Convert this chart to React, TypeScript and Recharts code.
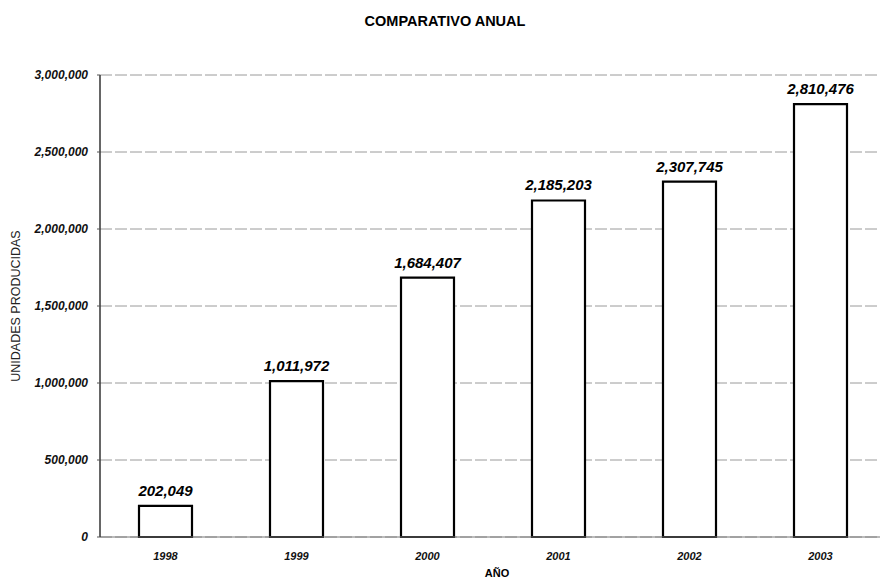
import React from 'react';
import { BarChart, Bar, XAxis, YAxis, CartesianGrid, LabelList } from 'recharts';

const years = ['1998', '1999', '2000', '2001', '2002', '2003'];
const units = [202049, 1011972, 1684407, 2185203, 2307745, 2810476];
const yTicks = [0, 500000, 1000000, 1500000, 2000000, 2500000, 3000000];

const title = 'COMPARATIVO ANUAL';
const yLabel = 'UNIDADES PRODUCIDAS';
const xLabel = 'AÑO';

const data = years.map((y, i) => ({ year: y, value: units[i] }));

const FONT = '"Liberation Sans", Arial, sans-serif';
const fmt = (v: number) => Number(v).toLocaleString('en-US');

const Overlay = () => (
  <g>
    <text x={445} y={26} textAnchor="middle" fontFamily={FONT} fontWeight="bold" fontSize={14.5} fill="#000">
      {title}
    </text>
    <text
      x={17}
      y={306}
      transform="rotate(-90 17 306)"
      textAnchor="middle"
      dominantBaseline="middle"
      fontFamily={FONT}
      fontSize={12.5}
      fill="#222"
    >
      {yLabel}
    </text>
    <text x={497} y={577} textAnchor="middle" fontFamily={FONT} fontWeight="bold" fontSize={11} fill="#000">
      {xLabel}
    </text>
  </g>
);

export default function App() {
  return (
    <div style={{ position: 'absolute', left: 0, top: 0, width: 880, height: 584, overflow: 'hidden', background: '#fff' }}>
      <BarChart
        width={886}
        height={584}
        data={data}
        margin={{ top: 75, right: 0, bottom: 0, left: 0 }}
        barCategoryGap={0}
      >
        <CartesianGrid vertical={false} stroke="#9a9a9a" strokeDasharray="12 3" />
        <XAxis
          dataKey="year"
          height={47}
          tickLine={false}
          axisLine={{ stroke: '#777', strokeWidth: 1 }}
          tickMargin={9}
          tick={{ fontFamily: FONT, fontStyle: 'italic', fontWeight: 'bold', fontSize: 11, fill: '#111' }}
          label={{ content: () => <Overlay /> }}
        />
        <YAxis
          width={100}
          domain={[0, 3000000]}
          ticks={yTicks}
          tickFormatter={fmt}
          tickSize={3}
          tickMargin={9}
          axisLine={{ stroke: '#333', strokeWidth: 1.5 }}
          tickLine={{ stroke: '#555' }}
          tick={{ fontFamily: FONT, fontStyle: 'italic', fontWeight: 'bold', fontSize: 12, fill: '#111' }}
        />
        <Bar dataKey="value" barSize={53} fill="#fff" stroke="#000" strokeWidth={2.2} isAnimationActive={false}>
          <LabelList
            dataKey="value"
            position="top"
            offset={10}
            formatter={fmt}
            style={{ fontFamily: FONT, fontStyle: 'italic', fontWeight: 'bold', fontSize: 15, fill: '#000' }}
          />
        </Bar>
      </BarChart>
    </div>
  );
}
